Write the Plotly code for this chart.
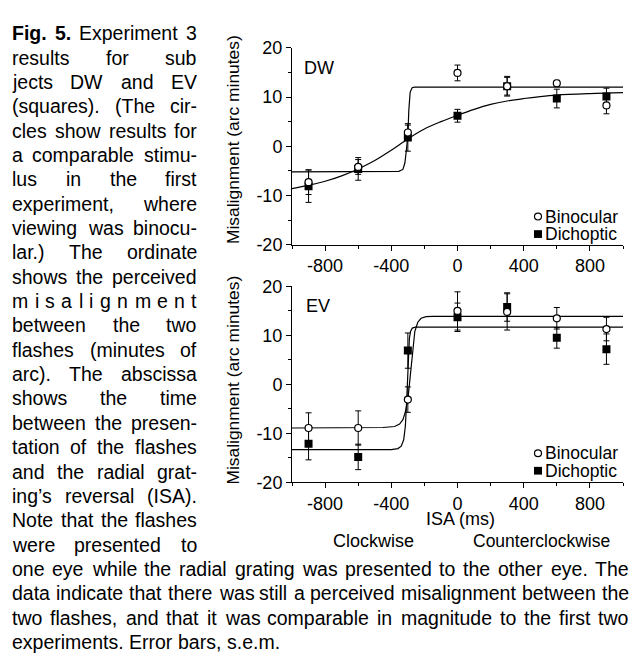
import plotly.graph_objects as go

W, H = 633, 666

# ---------------- data ----------------
isa = [-900, -600, -300, 0, 300, 600, 900]

dw_bin = [-7.3, -4.2, 2.8, 14.9, 12.2, 12.8, 8.3]
dw_bin_err = [2.5, 1.5, 1.5, 1.6, 1.8, 0.6, 1.7]
dw_dich = [-8.1, -4.6, 1.8, 6.2, 12.2, 9.7, 10.1]
dw_dich_err = [3.3, 2.3, 2.8, 1.3, 2.0, 1.9, 1.7]

ev_bin = [-8.9, -8.9, -3.1, 15.0, 14.8, 13.5, 11.3]
ev_bin_err = [3.1, 3.5, 2.6, 3.9, 3.7, 2.2, 2.4]
ev_dich = [-12.1, -14.8, 6.9, 13.7, 15.8, 9.5, 7.2]
ev_dich_err = [3.3, 2.6, 3.6, 2.9, 2.9, 2.1, 3.1]

# fitted curves
dw_bin_fit_x = [-1000, -400, -355, -330, -318, -310, -300, -294, -286, -274, -260, 1000]
dw_bin_fit_y = [-5.2, -5.2, -5.1, -4.7, -3.4, -1.1, 2.2, 7.4, 11.0, 11.9, 12.0, 12.0]
dw_dich_fit_x = [-1000, -900, -800, -700, -600, -500, -400, -300, -200, -100, 0, 100, 200, 300, 400, 500, 600, 800, 1000]
dw_dich_fit_y = [-8.6, -7.9, -7.1, -6.0, -4.6, -2.9, -0.8, 1.5, 3.5, 5.0, 6.3, 7.5, 8.5, 9.2, 9.7, 10.1, 10.4, 10.7, 10.9]

ev_bin_fit_x = [-1000, -450, -380, -350, -330, -315, -300, -290, -280, -270, -258, -240, -220, -190, -150, 1000]
ev_bin_fit_y = [-8.9, -8.8, -8.6, -8.1, -7.2, -5.6, -3.1, 0.5, 4.5, 8.0, 10.8, 12.7, 13.5, 13.85, 13.9, 13.9]
ev_dich_fit_x = [-1000, -400, -360, -340, -325, -315, -308, -302, -297, -291, -284, -273, -255, 1000]
ev_dich_fit_y = [-13.3, -13.3, -13.1, -12.6, -11.3, -8.5, -4.0, 2.0, 6.5, 9.3, 10.8, 11.5, 11.7, 11.7]

x_tickvals = [-800, -400, 0, 400, 800]
x_ticktext = ["-800", "-400", "0", "400", "800"]
y_tickvals = [-20, -10, 0, 10, 20]
y_ticktext = ["-20", "-10", "0", "10", "20"]

caption_lines = [
    [("Fig.", True), ("5.", True), ("Experiment", False), ("3", False)],
    "results for sub",
    "jects DW and EV",
    "(squares). (The cir-",
    "cles show results for",
    "a comparable stimu-",
    "lus in the first",
    "experiment, where",
    "viewing was binocu-",
    "lar.) The ordinate",
    "shows the perceived",
    "misalignment",
    "between the two",
    "flashes (minutes of",
    "arc). The abscissa",
    "shows the time",
    "between the presen-",
    "tation of the flashes",
    "and the radial grat-",
    "ing\u2019s reversal (ISA).",
    "Note that the flashes",
    "were presented to",
    "one eye while the radial grating was presented to the other eye. The",
    "data indicate that there was still a perceived misalignment between the",
    "two flashes, and that it was comparable in magnitude to the first two",
    "experiments. Error bars, s.e.m.",
]

# ---------------- helpers ----------------
FONT = "Liberation Sans, Arial, sans-serif"
CAP_SIZE = 19.5

AW = dict(zip("abcdefghijklmnopqrstuvwxyz",
              [556, 556, 500, 556, 556, 278, 556, 556, 222, 222, 500, 222, 833,
               556, 556, 556, 556, 333, 500, 278, 556, 500, 722, 500, 500, 500]))
AW.update(dict(zip("ABCDEFGHIJKLMNOPQRSTUVWXYZ",
                   [667, 667, 722, 722, 667, 611, 778, 722, 278, 500, 667, 556, 833,
                    722, 778, 667, 778, 722, 667, 611, 722, 667, 944, 667, 667, 611])))
AW.update({" ": 278, "(": 333, ")": 333, ",": 278, "-": 333, ".": 278,
           "\u2019": 222, "'": 191})
for d in "0123456789":
    AW[d] = 556
BW = {"F": 611, "i": 278, "g": 611, ".": 278, "5": 556, " ": 278}


def text_w(s, bold=False, size=CAP_SIZE):
    tab = BW if bold else AW
    return sum(tab.get(c, 556) for c in s) * size / 1000.0


def px(x):
    return x / W


def py(y):
    return 1 - y / H


annotations = []


def ann(text, x, y, xanchor="left", size=CAP_SIZE, bold=False, angle=0, yanchor="middle"):
    annotations.append(dict(
        text=("<b>%s</b>" % text) if bold else text,
        x=px(x), y=py(y), xref="paper", yref="paper",
        xanchor=xanchor, yanchor=yanchor, showarrow=False,
        textangle=angle, borderpad=0, borderwidth=0,
        font=dict(family=FONT, size=size, color="black")))


def line_words(words, y, left, right, justify=True):
    ws = [text_w(t, b) for t, b in words]
    n = len(words)
    gap = (right - left - sum(ws)) / (n - 1) if (justify and n > 1) else text_w(" ")
    x = left
    for i, (t, b) in enumerate(words):
        if justify and n > 1 and i == n - 1:
            ann(t, right, y, "right", bold=b)
        else:
            ann(t, x, y, "left", bold=b)
        x += ws[i] + gap


LEFT = 12
COL_RIGHT = 197
FULL_RIGHT = 629
for i, ln in enumerate(caption_lines):
    y = 24 + 25.1 * i
    if isinstance(ln, str):
        if ln == "misalignment":
            words = [(c, False) for c in ln]
        else:
            words = [(w, False) for w in ln.split(" ")]
    else:
        words = ln
    if i < 22:
        line_words(words, y, LEFT, COL_RIGHT, True)
    elif i < 25:
        line_words(words, y, LEFT, FULL_RIGHT, True)
    else:
        line_words(words, y, LEFT, FULL_RIGHT, False)

# ---------------- chart ----------------
fig = go.Figure()

err_style = dict(type="data", color="black", thickness=1, width=3)


def add_panel(xa, ya, bin_fit, dich_fit, dich, dich_err, binv, bin_err, name):
    fig.add_trace(go.Scatter(x=dich_fit[0], y=dich_fit[1], mode="lines",
                             line=dict(color="black", width=1.2, shape="spline" if name == "DW" else "linear"),
                             xaxis=xa, yaxis=ya, showlegend=False, hoverinfo="skip"))
    fig.add_trace(go.Scatter(x=bin_fit[0], y=bin_fit[1], mode="lines",
                             line=dict(color="black", width=1.2),
                             xaxis=xa, yaxis=ya, showlegend=False, hoverinfo="skip"))
    fig.add_trace(go.Scatter(x=isa, y=dich, mode="markers", name=name + " Dichoptic",
                             marker=dict(symbol="square", size=8, color="black"),
                             error_y=dict(array=dich_err, **err_style),
                             xaxis=xa, yaxis=ya, showlegend=False))
    fig.add_trace(go.Scatter(x=isa, y=binv, mode="markers", name=name + " Binocular",
                             marker=dict(symbol="circle", size=7, color="white",
                                         line=dict(color="black", width=1.2)),
                             error_y=dict(array=bin_err, **err_style),
                             xaxis=xa, yaxis=ya, showlegend=False))


add_panel("x", "y", (dw_bin_fit_x, dw_bin_fit_y), (dw_dich_fit_x, dw_dich_fit_y),
          dw_dich, dw_dich_err, dw_bin, dw_bin_err, "DW")
add_panel("x2", "y2", (ev_bin_fit_x, ev_bin_fit_y), (ev_dich_fit_x, ev_dich_fit_y),
          ev_dich, ev_dich_err, ev_bin, ev_bin_err, "EV")

XL, XR = 292, 623
TOP = (39, 242)
BOT = (285, 487)

tickfont = dict(family=FONT, size=18, color="black")


def xaxis(anchor):
    return dict(domain=[px(XL), px(XR)], range=[-1000, 1000], anchor=anchor,
                showline=True, linecolor="black", linewidth=1,
                ticks="outside", ticklen=5, tickwidth=1, tickcolor="black",
                tickmode="array", tickvals=x_tickvals, ticktext=x_ticktext,
                minor=dict(ticks="outside", ticklen=3, tickwidth=1, tickcolor="black",
                           dtick=200, tick0=0, showgrid=False),
                showgrid=False, zeroline=False, tickfont=tickfont, fixedrange=True)


def yaxis(anchor, dom):
    return dict(domain=[py(dom[1]), py(dom[0])], range=[-20, 20], anchor=anchor,
                showline=True, linecolor="black", linewidth=1,
                ticks="outside", ticklen=5, tickwidth=1, tickcolor="black",
                tickmode="array", tickvals=y_tickvals, ticktext=y_ticktext,
                minor=dict(ticks="outside", ticklen=3, tickwidth=1, tickcolor="black",
                           dtick=5, tick0=0, showgrid=False),
                showgrid=False, zeroline=False, tickfont=tickfont, fixedrange=True)


# chart texts
ann("Misalignment (arc minutes)", 233, 134, "center", size=17.4, angle=-90)
ann("Misalignment (arc minutes)", 233, 382, "center", size=17.4, angle=-90)
ann("DW", 304, 60, "left", size=18)
ann("EV", 306, 305, "left", size=18)
ann("ISA (ms)", 460, 525, "center", size=18)
ann("Clockwise", 373, 547, "center", size=18)
ann("Counterclockwise", 541, 547, "center", size=17.5)

shapes = []
for (yb, yd) in [(213, 231), (457, 475)]:
    ann("Binocular", 545, yb, "left", size=17.5)
    ann("Dichoptic", 545, yd, "left", size=17.5)
    shapes.append(dict(type="circle", xref="paper", yref="paper",
                       x0=px(538 - 3.5), x1=px(538 + 3.5), y0=py(yb + 3.5), y1=py(yb - 3.5),
                       line=dict(color="black", width=1.2), fillcolor="white"))
    shapes.append(dict(type="rect", xref="paper", yref="paper",
                       x0=px(538 - 4), x1=px(538 + 4), y0=py(yd + 4), y1=py(yd - 4),
                       line=dict(color="black", width=0), fillcolor="black"))

fig.update_layout(
    width=W, height=H, margin=dict(l=0, r=0, t=0, b=0),
    paper_bgcolor="white", plot_bgcolor="white",
    xaxis=xaxis("y"), yaxis=yaxis("x", TOP),
    xaxis2=xaxis("y2"), yaxis2=yaxis("x2", BOT),
    annotations=annotations, shapes=shapes, showlegend=False,
)

fig.write_html("out.html",
               config={"displayModeBar": False},
               post_script="document.body.style.margin='0';document.body.style.padding='0';"
                           "document.body.style.overflow='hidden';"
                           "document.documentElement.style.overflow='hidden';")
